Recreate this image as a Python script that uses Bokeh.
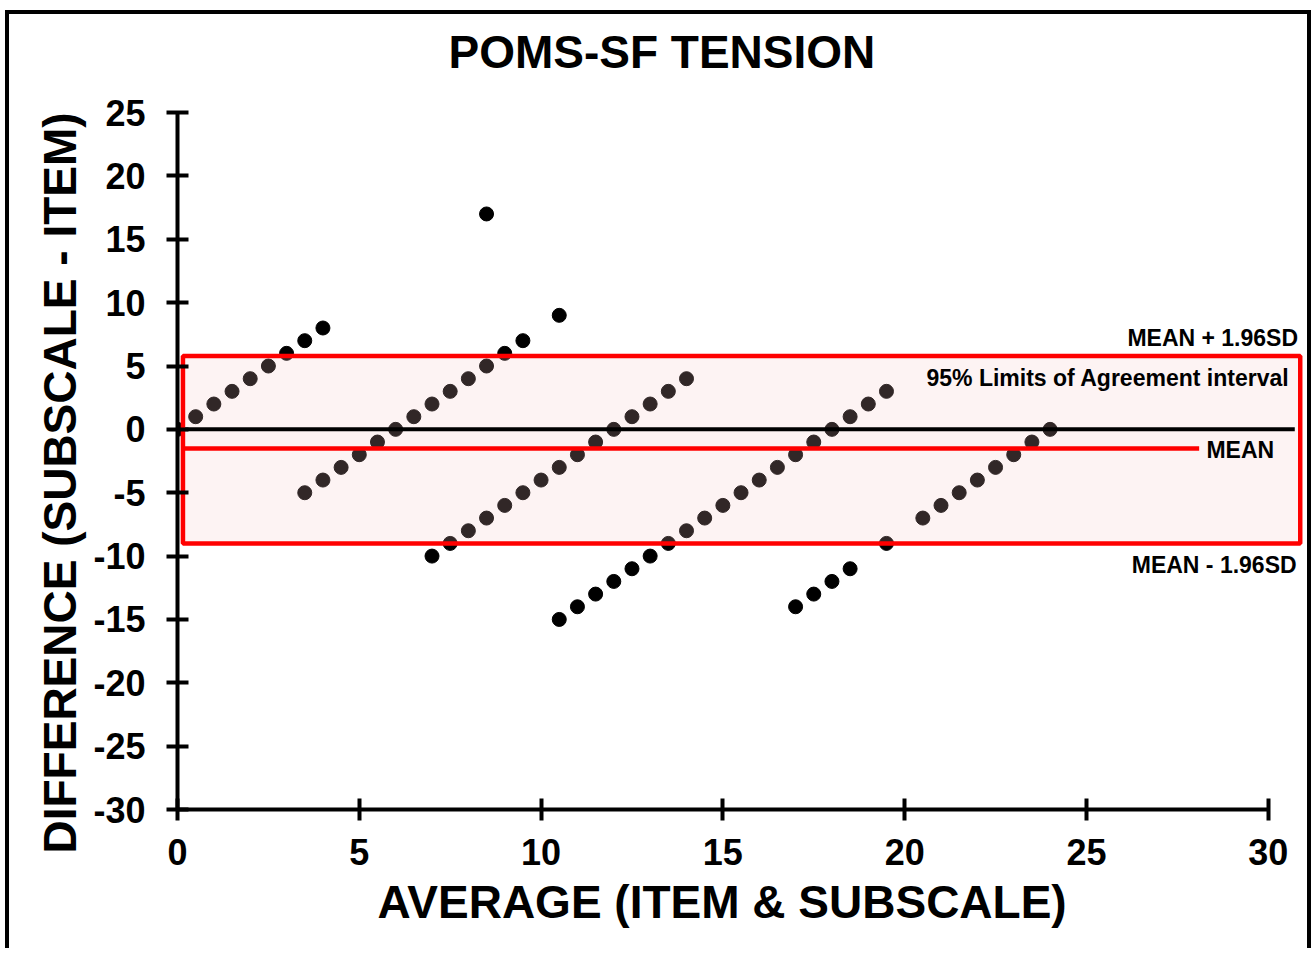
from bokeh.plotting import figure
from bokeh.models import Range1d, FixedTicker, Label, Title
from bokeh.embed import file_html
from bokeh.resources import INLINE

# ---- data (Bland-Altman plot) ----
avg = [0, 0.5, 1, 1.5, 2, 2.5, 3, 3.5, 4,
       3.5, 4, 4.5, 5, 5.5, 6, 6.5, 7, 7.5, 8, 8.5, 9, 9.5, 10.5, 8.5,
       7, 7.5, 8, 8.5, 9, 9.5, 10, 10.5, 11, 11.5, 12, 12.5, 13, 13.5, 14,
       10.5, 11, 11.5, 12, 12.5, 13, 13.5, 14, 14.5, 15, 15.5, 16, 16.5, 17, 17.5, 18, 18.5, 19, 19.5,
       17, 17.5, 18, 18.5, 19.5, 20.5, 21, 21.5, 22, 22.5, 23, 23.5, 24]
diff = [0, 1, 2, 3, 4, 5, 6, 7, 8,
        -5, -4, -3, -2, -1, 0, 1, 2, 3, 4, 5, 6, 7, 9, 17,
        -10, -9, -8, -7, -6, -5, -4, -3, -2, -1, 0, 1, 2, 3, 4,
        -15, -14, -13, -12, -11, -10, -9, -8, -7, -6, -5, -4, -3, -2, -1, 0, 1, 2, 3,
        -14, -13, -12, -11, -9, -7, -6, -5, -4, -3, -2, -1, 0]

x_ticks = [0, 5, 10, 15, 20, 25, 30]
y_ticks = [-30, -25, -20, -15, -10, -5, 0, 5, 10, 15, 20, 25]
y_tick_labels = {t: str(t) for t in y_ticks}   # plain hyphen minus, as in the reference

mean_diff = -1.5
upper_loa = 5.8
lower_loa = -9.0

box_x = [0.15, 30.88]      # extent of the limits-of-agreement box
zero_line_x = [0, 30.73]   # extent of the zero reference line
mean_line_x = [0.15, 28.1] # extent of the mean line

title_text = "POMS-SF TENSION"
x_title = "AVERAGE (ITEM & SUBSCALE)"
y_title = "DIFFERENCE (SUBSCALE - ITEM)"

FONT = "Liberation Sans"
RED = "#FF0000"

# the y range runs a little above the top tick so that the title sits higher;
# the axis line itself is bounded to -30..25
p = figure(width=1298, height=934,
           x_range=Range1d(0, 30.97), y_range=Range1d(-30, 27.77),
           output_backend="svg", toolbar_location=None,
           min_border_left=168, min_border_right=12,
           min_border_top=63, min_border_bottom=143)
p.styles = {"margin-left": "5px", "margin-top": "10px",
            "border-style": "solid", "border-color": "black",
            "border-width": "4px 4px 0px 4px", "box-sizing": "content-box"}
p.background_fill_color = "white"
p.border_fill_color = "white"
p.outline_line_color = None
p.grid.visible = False

# main title
p.title.text = title_text
p.title.align = "left"
p.title.offset = 271
p.title.vertical_align = "bottom"
p.title.standoff = 0
p.title.text_font = FONT
p.title.text_font_size = "46px"
p.title.text_font_style = "bold"
p.title.text_color = "black"

# axes
xax = p.below[0]
yax = p.left[0]
for ax in (xax, yax):
    ax.axis_line_width = 4
    ax.axis_line_color = "black"
    ax.major_tick_line_width = 4
    ax.major_tick_line_color = "black"
    ax.major_tick_in = 11
    ax.major_tick_out = 11
    ax.minor_tick_line_color = None
    ax.major_label_text_font = FONT
    ax.major_label_text_font_size = "36px"
    ax.major_label_text_font_style = "bold"
    ax.major_label_text_color = "black"

xax.ticker = FixedTicker(ticks=x_ticks)
xax.bounds = (0, 30)
xax.major_label_standoff = 18

yax.ticker = FixedTicker(ticks=y_ticks)
yax.bounds = (-30, 25)
yax.major_label_standoff = 21
yax.major_label_overrides = y_tick_labels

# axis titles
p.add_layout(Title(text=x_title, align="left", offset=200, vertical_align="top", standoff=16,
                   text_font=FONT, text_font_size="46px", text_font_style="bold",
                   text_color="black"), "below")
p.add_layout(Title(text=y_title, align="left", offset=-44, vertical_align="bottom", standoff=10,
                   text_font=FONT, text_font_size="46px", text_font_style="bold",
                   text_color="black"), "left")

# points
p.scatter(avg, diff, size=14, marker="circle", fill_color="black", line_color="black")

# limits of agreement box: translucent fill over points
p.quad(left=[box_x[0]], right=[box_x[1]], top=[upper_loa], bottom=[lower_loa],
       fill_color="#F5C3C3", fill_alpha=0.2, line_color=None)
# zero line
p.line(zero_line_x, [0, 0], line_color="black", line_width=4)
# mean line
p.line(mean_line_x, [mean_diff, mean_diff], line_color=RED, line_width=4.5)
# box outline
p.quad(left=[box_x[0]], right=[box_x[1]], top=[upper_loa], bottom=[lower_loa],
       fill_color=None, line_color=RED, line_width=4.5)

def lab(x, y, text, align, size="23px"):
    p.add_layout(Label(x=x, y=y, text=text, text_align=align, text_baseline="middle",
                       text_font=FONT, text_font_size=size, text_font_style="bold",
                       text_color="black"))

lab(30.82, 7.2, "MEAN + 1.96SD", "right")
lab(20.6, 4.05, "95% Limits of Agreement interval", "left")
lab(28.3, -1.6, "MEAN", "left")
lab(30.78, -10.7, "MEAN - 1.96SD", "right")

open("out.html", "w").write(file_html(p, INLINE))
